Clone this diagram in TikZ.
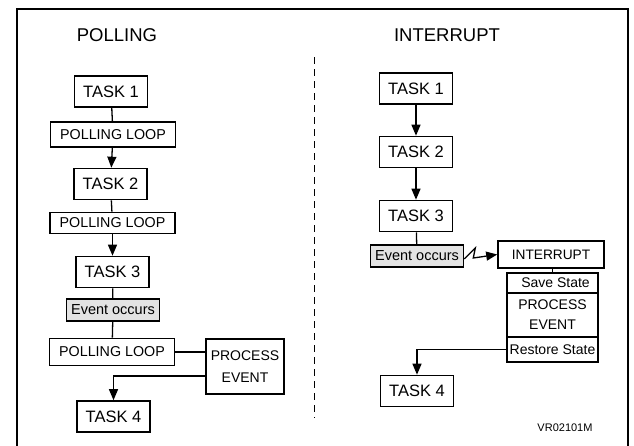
\documentclass[tikz,border=0pt]{standalone}
\usepackage{fontspec}
\setmainfont{Liberation Sans}
\usetikzlibrary{arrows.meta}

\begin{document}
\begin{tikzpicture}[x=1pt, y=-1pt,
  box/.style={draw, line width=1.6pt, inner sep=0pt, align=center},
  task/.style={box, minimum width=73pt, minimum height=31pt, font=\fontsize{16.5}{18}\selectfont},
  loopbox/.style={box, minimum width=125pt, minimum height=25pt, font=\fontsize{14.3}{16}\selectfont},
  evbox/.style={box, fill=gray!22, minimum width=93pt, minimum height=22pt, font=\fontsize{14.5}{16}\selectfont},
  small/.style={font=\fontsize{14}{20}\selectfont},
  heading/.style={font=\fontsize{18.5}{20}\selectfont},
  conn/.style={line width=1.3pt},
  arr/.style={conn, -{Triangle[length=11pt, width=9pt]}}
]
  \useasboundingbox (0,0) rectangle (634,445);
  \draw[line width=1.1pt] (17,447) -- (17,9) -- (628,9) -- (628,447);
  \draw[line width=0.9pt, dash pattern=on 7pt off 5pt] (314,57) -- (314,418);

  \node[heading] (ptitle) at (117,35) {POLLING};
  \node[task] (pt1) at (111,91.5) {TASK 1};
  \node[loopbox] (ppl1) at (113,134.5) {POLLING LOOP};
  \node[task] (pt2) at (110.5,184) {TASK 2};
  \node[loopbox, minimum height=21pt] (ppl2) at (112.5,223) {POLLING LOOP};
  \node[task] (pt3) at (112.5,272) {TASK 3};
  \node[evbox] (pev) at (113,310) {Event occurs};
  \node[loopbox, minimum height=27pt] (ppl3) at (112,352) {POLLING LOOP};
  \node[box, font=\fontsize{14}{22}\selectfont, minimum width=78pt, minimum height=55pt] (ppe) at (245,366.5) {PROCESS\\EVENT};
  \node[task] (pt4) at (113.5,416.5) {TASK 4};

  \node[heading] (ititle) at (447,35) {INTERRUPT};
  \node[task] (it1) at (416,88.5) {TASK 1};
  \node[task] (it2) at (416,152) {TASK 2};
  \node[task] (it3) at (416,216) {TASK 3};
  \node[evbox] (iev) at (417,256) {Event occurs};
  \node[box, minimum width=106pt, minimum height=27pt, font=\fontsize{13.7}{16}\selectfont] (iint) at (551,254.5) {INTERRUPT};
  \node[box, small, minimum width=91pt, minimum height=20pt] (isave) at (552.5,283) {\hspace*{6pt}Save State};
  \node[box, small, minimum width=91pt, minimum height=44pt] (iproc) at (552.5,315) {PROCESS\\EVENT};
  \node[box, small, minimum width=91pt, minimum height=25pt] (irest) at (552.5,349.5) {Restore State};
  \node[task] (it4) at (417,391) {TASK 4};
  \node[font=\fontsize{11}{12}\selectfont] (ref) at (565,428) {VR02101M};

  \path[conn]
  (pt1) edge (ppl1)
  (pt2) edge (ppl2)
  (pt3) edge (pev)
  (pev) edge (ppl3)
  (ppl3.east) edge (ppl3.east -| ppe.west)
  (it3) edge (iev)
  (iint.south -| isave.north) edge (isave.north)
  ;
  \path[arr]
  (ppl1) edge (pt2)
  (ppl2) edge (pt3)
  (it1) edge (it2)
  (it2) edge (it3)
  ;
  \draw[arr] ([yshift=-9.5pt]ppe.west) -| (pt4.north);
  \draw[arr] (irest.west) -| (it4.north);
  \draw[arr] ([yshift=-3pt]iev.east) -- ++(11,-11) -- ++(-2,10) -- (iint.west);
\end{tikzpicture}
\end{document}
